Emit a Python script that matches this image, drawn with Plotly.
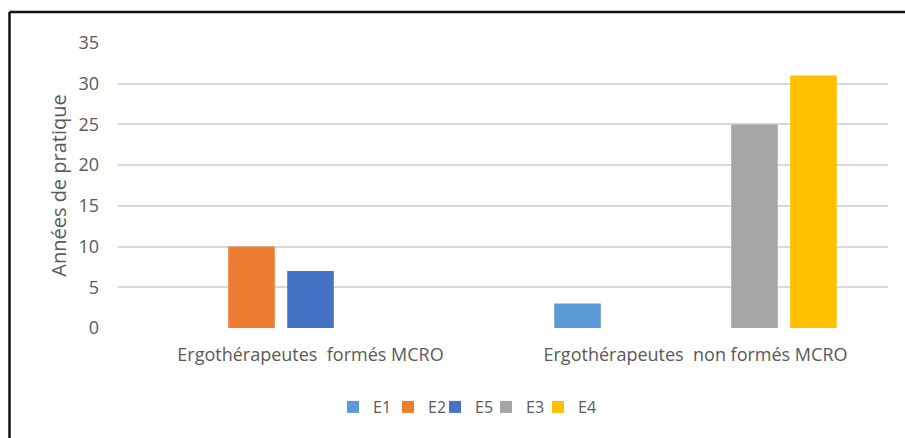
import plotly.graph_objects as go

categories = ["Ergothérapeutes  formés MCRO", "Ergothérapeutes  non formés MCRO"]
series_names = ["E1", "E2", "E5", "E3", "E4"]
e1 = [None, 3]
e2 = [10, None]
e5 = [7, None]
e3 = [None, 25]
e4 = [None, 31]
series_values = [e1, e2, e5, e3, e4]
colors = ["#5B9BD5", "#ED7D31", "#4472C4", "#A5A5A5", "#FFC000"]
y_ticks = [0, 5, 10, 15, 20, 25, 30, 35]
legend_marker_px = [347, 402, 449, 500, 552]  # left edge of each legend swatch (pixels)

W, H = 905, 438
L, R, T, B = 118, 17, 43, 110
pw, ph = W - L - R, H - T - B

FONT = "Open Sans, sans-serif"
TXT = "#595959"

def px_x(x):
    return (x - L) / pw

def px_y(y):
    return (H - B - y) / ph

fig = go.Figure()
legend_layouts = {}
for i, (name, vals, col) in enumerate(zip(series_names, series_values, colors)):
    lname = "legend" if i == 0 else f"legend{i + 1}"
    fig.add_trace(go.Bar(name=name, x=categories, y=vals, marker_color=col,
                         marker_line_width=0, legend=lname))
    legend_layouts[lname] = dict(
        orientation="h", x=px_x(legend_marker_px[i] - 14), xanchor="left",
        y=px_y(407), yanchor="middle", font=dict(size=16, color=TXT),
        itemwidth=30, bgcolor="rgba(0,0,0,0)")

fig.update_layout(
    width=W, height=H,
    margin=dict(l=L, r=R, t=T, b=B, autoexpand=False),
    paper_bgcolor="white", plot_bgcolor="white",
    barmode="group", bargap=0.234, bargroupgap=0.21,
    font=dict(family=FONT, color=TXT, size=16),
    xaxis=dict(showgrid=False, showline=False, zeroline=False, ticks="",
               tickfont=dict(size=18, color=TXT), ticklabelstandoff=14),
    yaxis=dict(range=[0, 35], tickvals=y_ticks, showgrid=True,
               gridcolor="#D9D9D9", gridwidth=1.5, zeroline=False, showline=False,
               tickfont=dict(size=18, color=TXT), ticklabelstandoff=18,
               title=dict(text="Années de pratique", font=dict(size=20, color=TXT),
                          standoff=6)),
    showlegend=True,
    shapes=[
        dict(type="line", xref="paper", yref="paper", x0=px_x(9.5), x1=px_x(906),
             y0=px_y(12), y1=px_y(12), line=dict(color="#111111", width=2.5)),
        dict(type="line", xref="paper", yref="paper", x0=px_x(9.5), x1=px_x(9.5),
             y0=px_y(12), y1=px_y(440), line=dict(color="#111111", width=2.5)),
    ],
    **legend_layouts,
)

fig.write_html("out.html")
